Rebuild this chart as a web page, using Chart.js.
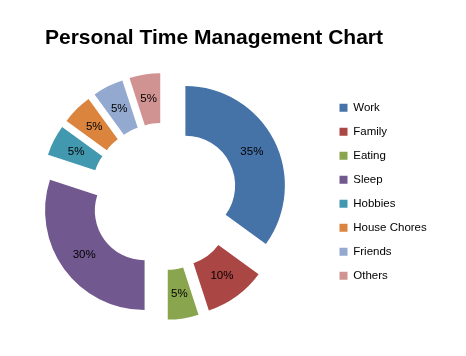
<!DOCTYPE html>
<html><head><meta charset="utf-8">
<script src="https://cdn.jsdelivr.net/npm/chart.js@4/dist/chart.umd.min.js"></script>
<style>html,body{margin:0;padding:0;background:#fff;}#wrap{width:466px;height:356px;}</style>
</head><body><div id="wrap"><canvas id="c" width="466" height="356"></canvas></div>
<script>
const categories = ['Work', 'Family', 'Eating', 'Sleep', 'Hobbies', 'House Chores', 'Friends', 'Others'];
const shares = [35, 10, 5, 30, 5, 5, 5, 5];
const sliceColors = ['#4572A7', '#AA4643', '#89A54E', '#71588F', '#4198AF', '#DB843D', '#93A9CF', '#D19392'];
const titleText = 'Personal Time Management Chart';

const FONT = "'Liberation Sans', Arial, sans-serif";
const LEGEND_SIZE = 11.5;
const EXPLODE = 24;
const LEGEND_W = 100;

const explodePlugin = {
  id: 'explode',
  beforeDatasetDraw(chart, args) {
    const ctx = chart.ctx;
    args.meta.data.forEach(arc => {
      const mid = (arc.startAngle + arc.endAngle) / 2;
      ctx.save();
      ctx.translate(Math.cos(mid) * EXPLODE, Math.sin(mid) * EXPLODE);
      arc.draw(ctx);
      ctx.restore();
    });
    return false;
  }
};

const labelPlugin = {
  id: 'sliceLabels',
  afterDatasetsDraw(chart) {
    const ctx = chart.ctx;
    const meta = chart.getDatasetMeta(0);
    const data = chart.data.datasets[0].data;
    const total = data.reduce((a, b) => a + b, 0);
    ctx.save();
    ctx.font = '11.5px ' + FONT;
    ctx.fillStyle = '#000';
    ctx.textAlign = 'center';
    ctx.textBaseline = 'middle';
    meta.data.forEach((arc, i) => {
      const mid = (arc.startAngle + arc.endAngle) / 2;
      const r = (arc.innerRadius + arc.outerRadius) / 2 + EXPLODE;
      const pct = Math.round(data[i] / total * 100) + '%';
      ctx.fillText(pct, arc.x + Math.cos(mid) * r, arc.y + Math.sin(mid) * r);
    });
    ctx.restore();
  }
};

new Chart(document.getElementById('c'), {
  type: 'doughnut',
  data: {
    labels: categories,
    datasets: [{
      data: shares,
      backgroundColor: sliceColors,
      borderWidth: 0,
      hoverOffset: 0
    }]
  },
  options: {
    responsive: false,
    animation: false,
    devicePixelRatio: 1,
    radius: 99.5,
    cutout: '50%',
    layout: { padding: { left: 1, right: 466 - 327 - LEGEND_W, top: 0, bottom: 52.7 } },
    plugins: {
      tooltip: { enabled: false },
      title: {
        display: true,
        text: titleText,
        color: '#000',
        font: { family: FONT, size: 21, weight: 'bold' },
        padding: { top: 25.4, bottom: 38.9 }
      },
      legend: {
        position: 'right',
        align: 'start',
        fullSize: false,
        maxWidth: LEGEND_W,
        labels: {
          color: '#000',
          boxWidth: 8,
          boxHeight: 8,
          padding: 12.5,
          font: { family: FONT, size: LEGEND_SIZE }
        }
      }
    }
  },
  plugins: [explodePlugin, labelPlugin]
});
</script>
</body></html>
